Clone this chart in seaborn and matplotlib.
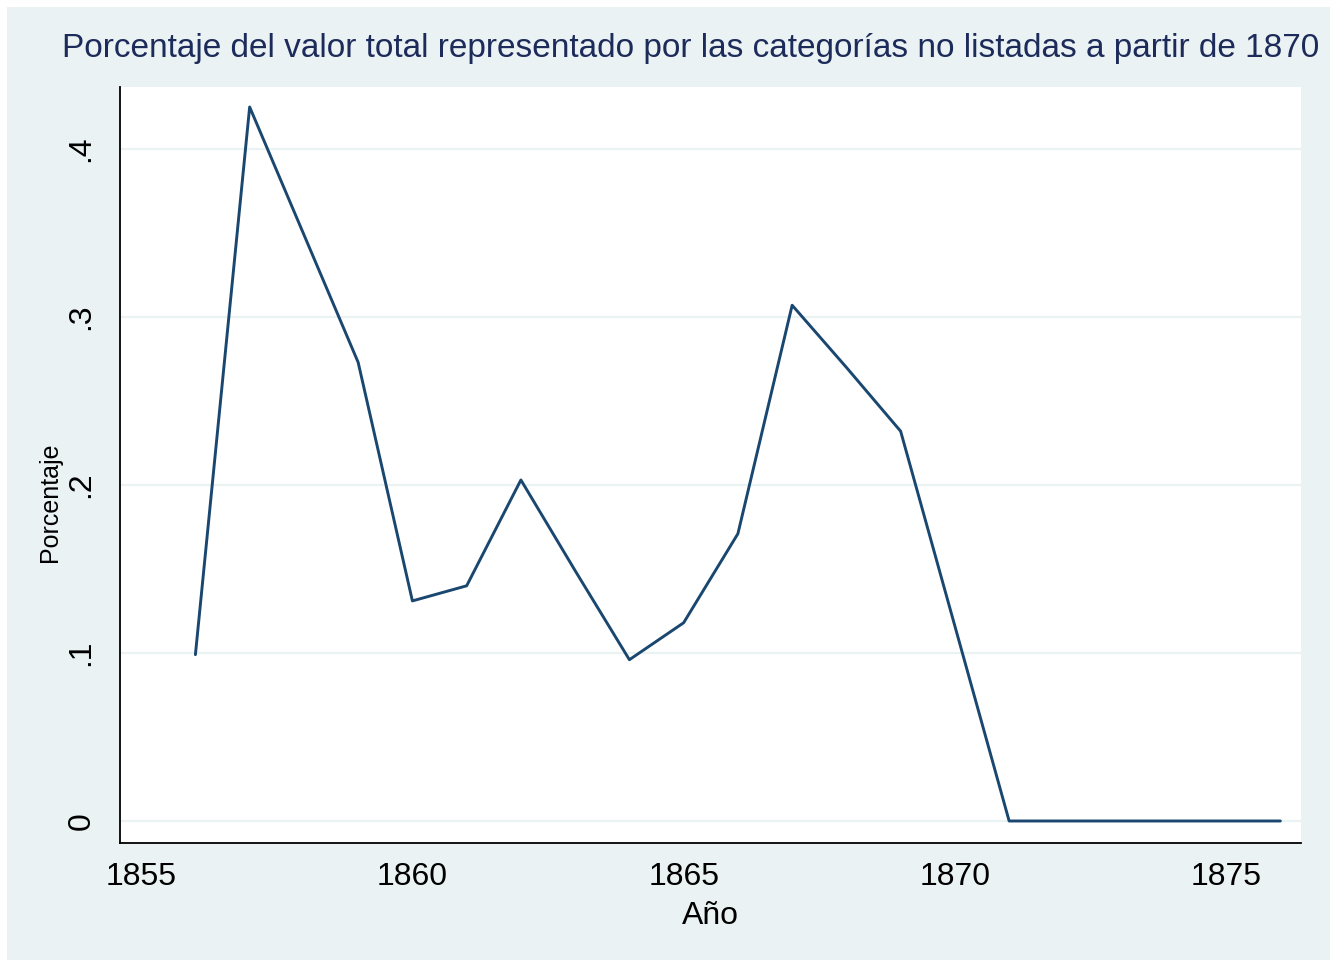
import matplotlib
matplotlib.use("Agg")
import matplotlib.pyplot as plt
import matplotlib.patches as mpatches
import seaborn as sns
import pandas as pd

# Values
years = [1856, 1857, 1858, 1859, 1860, 1861, 1862, 1863, 1864, 1865, 1866,
         1867, 1868, 1869, 1870, 1871, 1872, 1873, 1874, 1875, 1876]
pct = [0.099, 0.425, 0.349, 0.273, 0.131, 0.140, 0.203, 0.149, 0.096, 0.118, 0.171,
       0.307, 0.270, 0.232, 0.116, 0.0, 0.0, 0.0, 0.0, 0.0, 0.0]
xticks = [1855, 1860, 1865, 1870, 1875]
yticks = [0, 0.1, 0.2, 0.3, 0.4]
yticklabels = ["0", ".1", ".2", ".3", ".4"]

bg = "#EAF2F3"
navy = "#1a476f"

sns.set_theme(style="white")
plt.rcParams["font.family"] = ["Liberation Sans", "DejaVu Sans"]

df = pd.DataFrame({"year": years, "pct": pct})

fig = plt.figure(figsize=(13.37, 9.66), dpi=100, facecolor="white")
fig.patches.append(mpatches.Rectangle((7 / 1337, 6 / 966), 1323 / 1337, 953 / 966,
                                      transform=fig.transFigure, facecolor=bg,
                                      edgecolor="none", zorder=-10))
ax = fig.add_axes([120 / 1337, 123 / 966, 1181 / 1337, 756 / 966])
ax.set_facecolor("white")

sns.lineplot(data=df, x="year", y="pct", color=navy, linewidth=2.1, ax=ax)

ax.set_xlim(1854.61, 1876.38)
ax.set_ylim(-0.0131, 0.4369)
ax.set_xticks(xticks)
ax.set_xticklabels([str(t) for t in xticks], fontsize=23)
ax.set_yticks(yticks)
ax.set_yticklabels(yticklabels, fontsize=23, rotation=90, va="center")
ax.tick_params(axis="x", pad=3)
ax.tick_params(axis="y", pad=6)
ax.tick_params(axis="both", direction="out", length=11, width=1.3, color="black",
               labelcolor="black")
for y in yticks:
    ax.axhline(y, color=bg, linewidth=1.6, zorder=0)

for side in ["top", "right"]:
    ax.spines[side].set_visible(False)
for side in ["left", "bottom"]:
    ax.spines[side].set_color("black")
    ax.spines[side].set_linewidth(1.3)

ax.set_xlabel("Año", fontsize=23, color="black", labelpad=6)
ax.set_ylabel("Porcentaje", fontsize=18, color="black")
ax.yaxis.set_label_coords(-0.049, 0.451)

fig.text(691 / 1337, 1 - 49 / 966,
         "Porcentaje del valor total representado por las categorías no listadas a partir de 1870",
         ha="center", va="center", fontsize=24, color="#1c2b59")

fig.savefig("out.png", dpi=100, facecolor="white")
